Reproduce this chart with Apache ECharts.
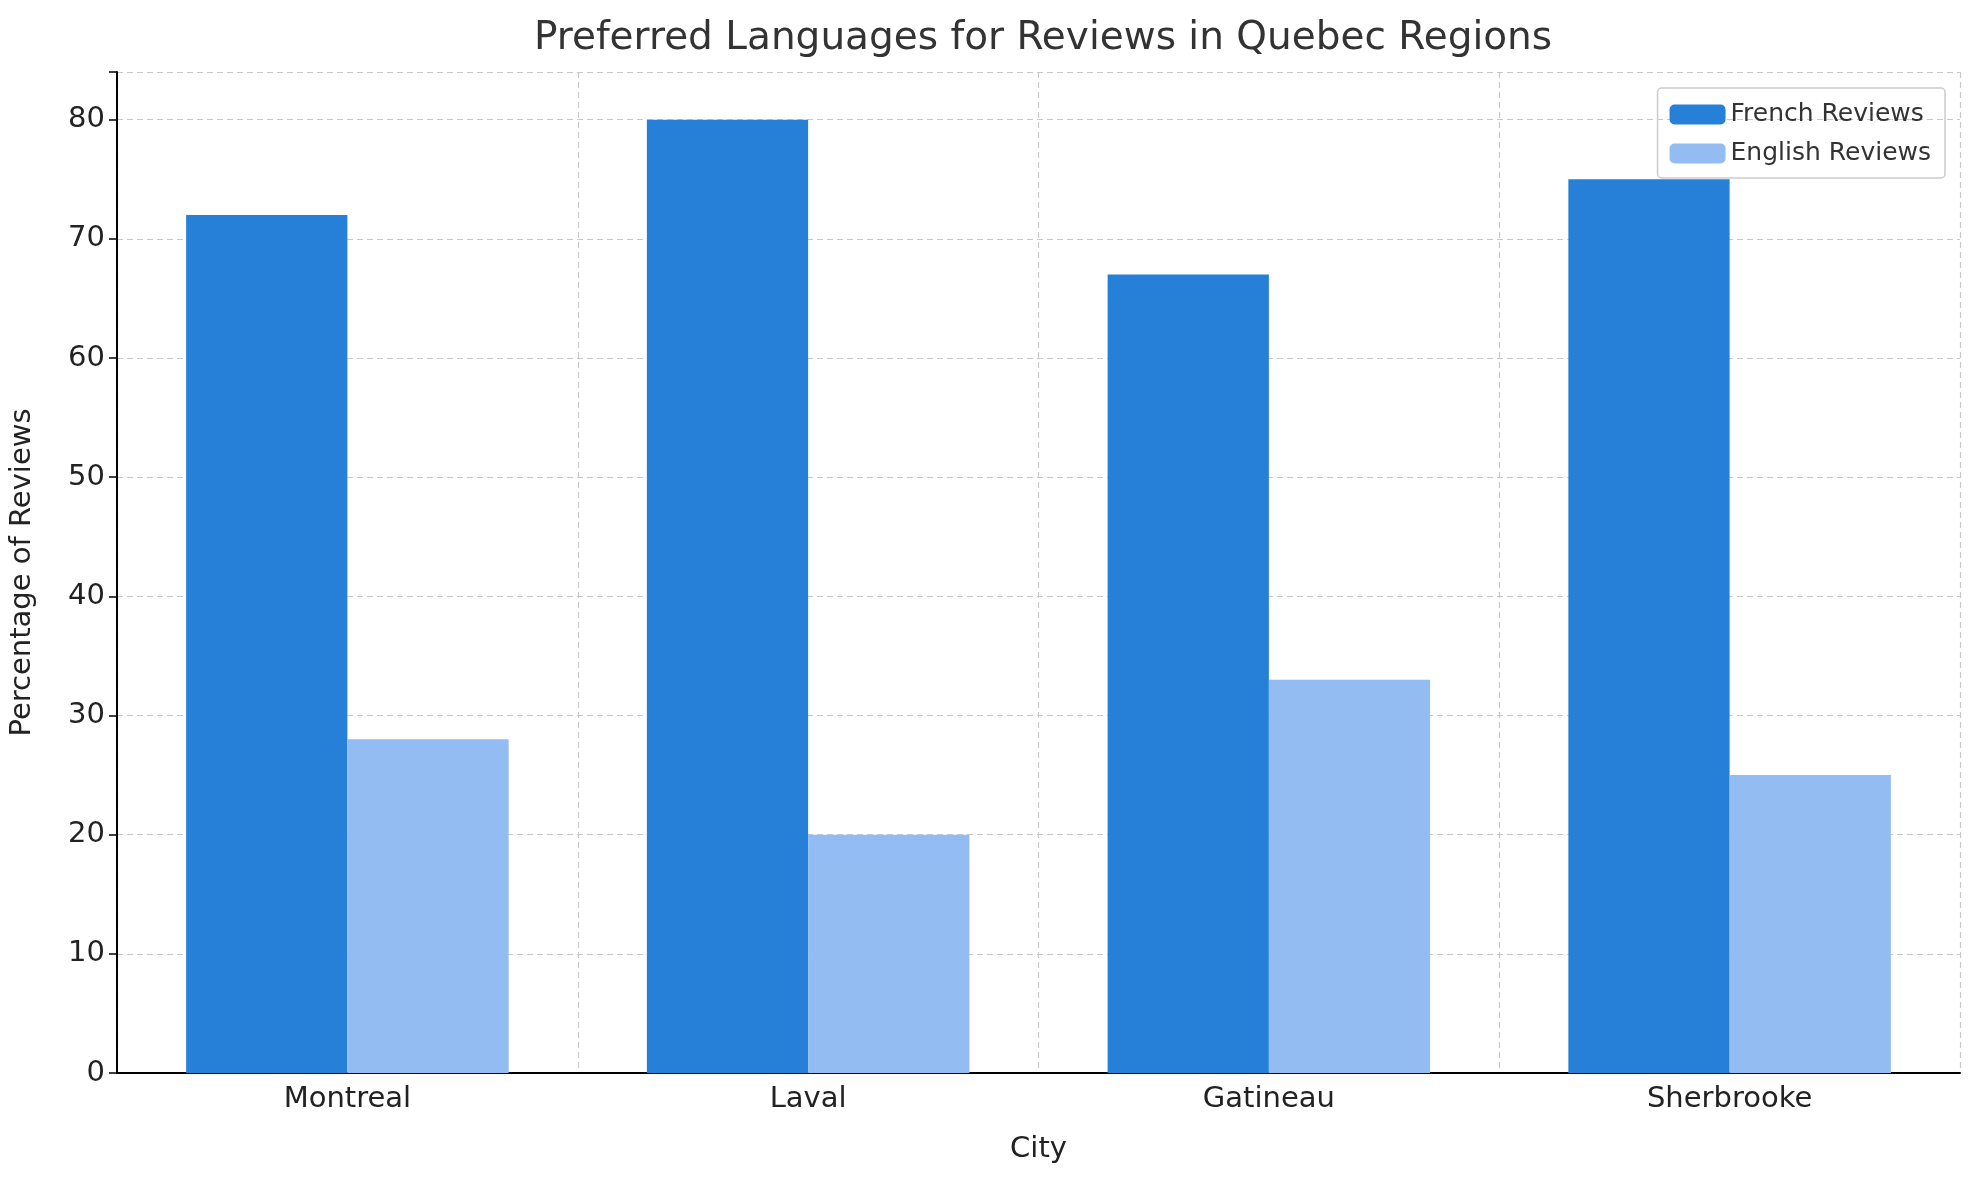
<!DOCTYPE html>
<html><head><meta charset="utf-8">
<script src="https://cdn.jsdelivr.net/npm/echarts@6/dist/echarts.min.js"></script>
<style>html,body{margin:0;padding:0;background:#fff}#c{width:1979px;height:1180px}</style>
</head><body><div id="c"></div>
<script>
const cities = ['Montreal', 'Laval', 'Gatineau', 'Sherbrooke'];
const frenchReviews = [72, 80, 67, 75];
const englishReviews = [28, 20, 33, 25];
const yTicks = [0, 10, 20, 30, 40, 50, 60, 70, 80];

const chart = echarts.init(document.getElementById('c'));
const font = 'DejaVu Sans';
const split = {show: true, lineStyle: {color: '#c8c8c8', type: [6, 4], width: 1.2}};
chart.setOption({
  animation: false,
  textStyle: {fontFamily: font},
  title: {text: 'Preferred Languages for Reviews in Quebec Regions', left: 1038, textAlign: 'center', top: 14,
    textStyle: {fontFamily: font, fontSize: 39, fontWeight: 'normal', color: '#333'}},
  legend: {orient: 'vertical', right: 34, top: 88, itemWidth: 56, itemHeight: 20, itemGap: 14,
    padding: [14, 14, 12, 12], borderColor: '#ccc', borderWidth: 1.5, borderRadius: 4,
    textStyle: {fontFamily: font, fontSize: 25, color: '#333'},
    data: ['French Reviews', 'English Reviews']},
  grid: {left: 116, right: 19, top: 72, bottom: 107},
  xAxis: {type: 'category', data: cities, name: 'City', nameLocation: 'middle', nameGap: 62,
    nameTextStyle: {fontFamily: font, fontSize: 29, color: '#222'},
    axisLine: {lineStyle: {color: '#000', width: 2}},
    axisTick: {alignWithLabel: true, length: 8, lineStyle: {color: '#000', width: 1.5}},
    axisLabel: {fontFamily: font, fontSize: 29, color: '#222', margin: 12},
    splitLine: split},
  yAxis: {type: 'value', min: 0, max: 84, interval: 10, name: 'Percentage of Reviews', nameLocation: 'middle', nameGap: 80,
    nameTextStyle: {fontFamily: font, fontSize: 29, color: '#222'},
    axisLine: {show: true, lineStyle: {color: '#000', width: 2}},
    axisTick: {show: true, length: 8, lineStyle: {color: '#000', width: 1.5}},
    axisLabel: {fontFamily: font, fontSize: 29, color: '#222', margin: 12,
      formatter: v => yTicks.includes(v) ? String(v) : ''},
    splitLine: split},
  series: [
    {name: 'French Reviews', type: 'bar', data: frenchReviews, barGap: '0%', barCategoryGap: '30%', itemStyle: {color: '#2780d8'}},
    {name: 'English Reviews', type: 'bar', data: englishReviews, itemStyle: {color: '#93bcf2'}}
  ]
});
</script></body></html>
